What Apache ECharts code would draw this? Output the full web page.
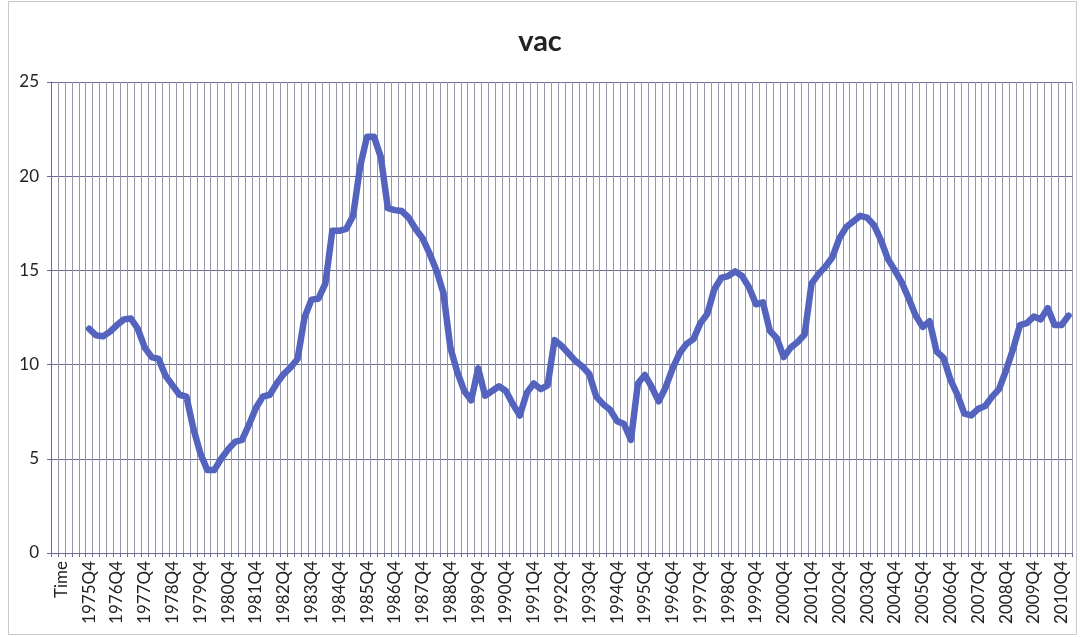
<!DOCTYPE html>
<html>
<head>
<meta charset="utf-8">
<script src="https://cdn.jsdelivr.net/npm/echarts@6/dist/echarts.min.js"></script>
<style>
html,body{margin:0;padding:0;background:#fff;}
#chart{width:1080px;height:637px;}
</style>
</head>
<body>
<div id="chart"></div>
<script>
// ---- data ----
var titleText = 'vac';
var leadLabels = ['', 'Time'];
var firstYear = 1975, lastYear = 2011;
var quarterNames = ['Q1', 'Q2', 'Q3', 'Q4'];
var yTicks = [0, 5, 10, 15, 20, 25];
// vacancy values 1975Q4 .. 2011Q1
var vac = [
  11.9, 11.55, 11.5, 11.75, 12.1, 12.4, 12.45, 11.9, 10.9, 10.4,
  10.3, 9.4, 8.9, 8.4, 8.3, 6.6, 5.3, 4.4, 4.4, 5.0,
  5.5, 5.9, 6.0, 6.8, 7.7, 8.3, 8.4, 9.0, 9.5, 9.85,
  10.3, 12.5, 13.45, 13.5, 14.3, 17.1, 17.1, 17.2, 17.9, 20.5,
  22.1, 22.1, 21.0, 18.3, 18.2, 18.15, 17.8, 17.2, 16.7, 15.9,
  15.0, 13.8, 10.9, 9.6, 8.6, 8.1, 9.8, 8.35, 8.6, 8.85,
  8.6, 7.9, 7.3, 8.5, 9.0, 8.7, 8.9, 11.3, 11.0, 10.6,
  10.2, 9.9, 9.5, 8.3, 7.9, 7.6, 7.0, 6.85, 6.0, 9.0,
  9.45, 8.8, 8.05, 8.8, 9.8, 10.6, 11.1, 11.35, 12.2, 12.7,
  14.0, 14.6, 14.7, 14.95, 14.7, 14.1, 13.2, 13.3, 11.8, 11.4,
  10.4, 10.9, 11.2, 11.6, 14.3, 14.8, 15.2, 15.7, 16.7, 17.3,
  17.6, 17.9, 17.8, 17.4, 16.6, 15.6, 15.0, 14.35, 13.5, 12.6,
  12.0, 12.3, 10.7, 10.36, 9.2, 8.4, 7.4, 7.3, 7.65, 7.8,
  8.3, 8.7, 9.7, 10.8, 12.1, 12.2, 12.55, 12.4, 13.0, 12.1,
  12.1, 12.6
];
var firstDataLabel = '1975Q4';

// ---- build categories ----
var categories = leadLabels.slice();
for (var y = firstYear; y <= lastYear; y++) {
  for (var q = 0; q < 4; q++) {
    categories.push(y + quarterNames[q]);
    if (y === lastYear && q === 0) break;
  }
}
var startIdx = categories.indexOf(firstDataLabel);
var seriesData = categories.map(function (c, i) {
  var k = i - startIdx;
  return (k >= 0 && k < vac.length) ? vac[k] : null;
});

var chart = echarts.init(document.getElementById('chart'), null, {renderer: 'canvas'});
chart.setOption({
  animation: false,
  backgroundColor: '#ffffff',
  title: {
    text: titleText,
    left: 'center',
    top: 22,
    textStyle: {fontFamily: 'Lato', fontWeight: 'bold', fontSize: 29, color: '#222'}
  },
  graphic: [{
    type: 'rect',
    shape: {x: 8.5, y: 1.5, width: 1068, height: 633},
    style: {fill: 'none', stroke: '#c8c8c8', lineWidth: 1},
    silent: true
  }],
  grid: {left: 51, right: 8, top: 82, bottom: 84, containLabel: false},
  xAxis: {
    type: 'category',
    data: categories,
    boundaryGap: true,
    axisLine: {show: true, lineStyle: {color: '#6a6a96', width: 1}},
    axisTick: {show: true, interval: 0, length: 4, lineStyle: {color: '#6a6a96'}},
    axisLabel: {
      interval: function (i) { return (i - 1) % 4 === 0; },
      rotate: 90,
      margin: 8,
      fontFamily: 'Lato',
      fontSize: 17,
      color: '#222'
    },
    splitLine: {show: true, interval: 0, lineStyle: {color: '#9797aa', width: 1}}
  },
  yAxis: {
    type: 'value',
    min: yTicks[0],
    max: yTicks[yTicks.length - 1],
    interval: 5,
    axisLine: {show: true, lineStyle: {color: '#6a6a96'}},
    axisTick: {show: true, length: 4, lineStyle: {color: '#6a6a96'}},
    axisLabel: {fontFamily: 'Lato', fontSize: 17, color: '#222', margin: 12},
    splitLine: {show: true, lineStyle: {color: '#6c6c94', width: 1}}
  },
  series: [{
    name: 'vac',
    type: 'line',
    data: seriesData,
    showSymbol: false,
    symbol: 'none',
    connectNulls: false,
    lineStyle: {color: '#5363be', width: 6.5, join: 'round', cap: 'round'},
    itemStyle: {color: '#5363be'}
  }]
});
</script>
</body>
</html>
